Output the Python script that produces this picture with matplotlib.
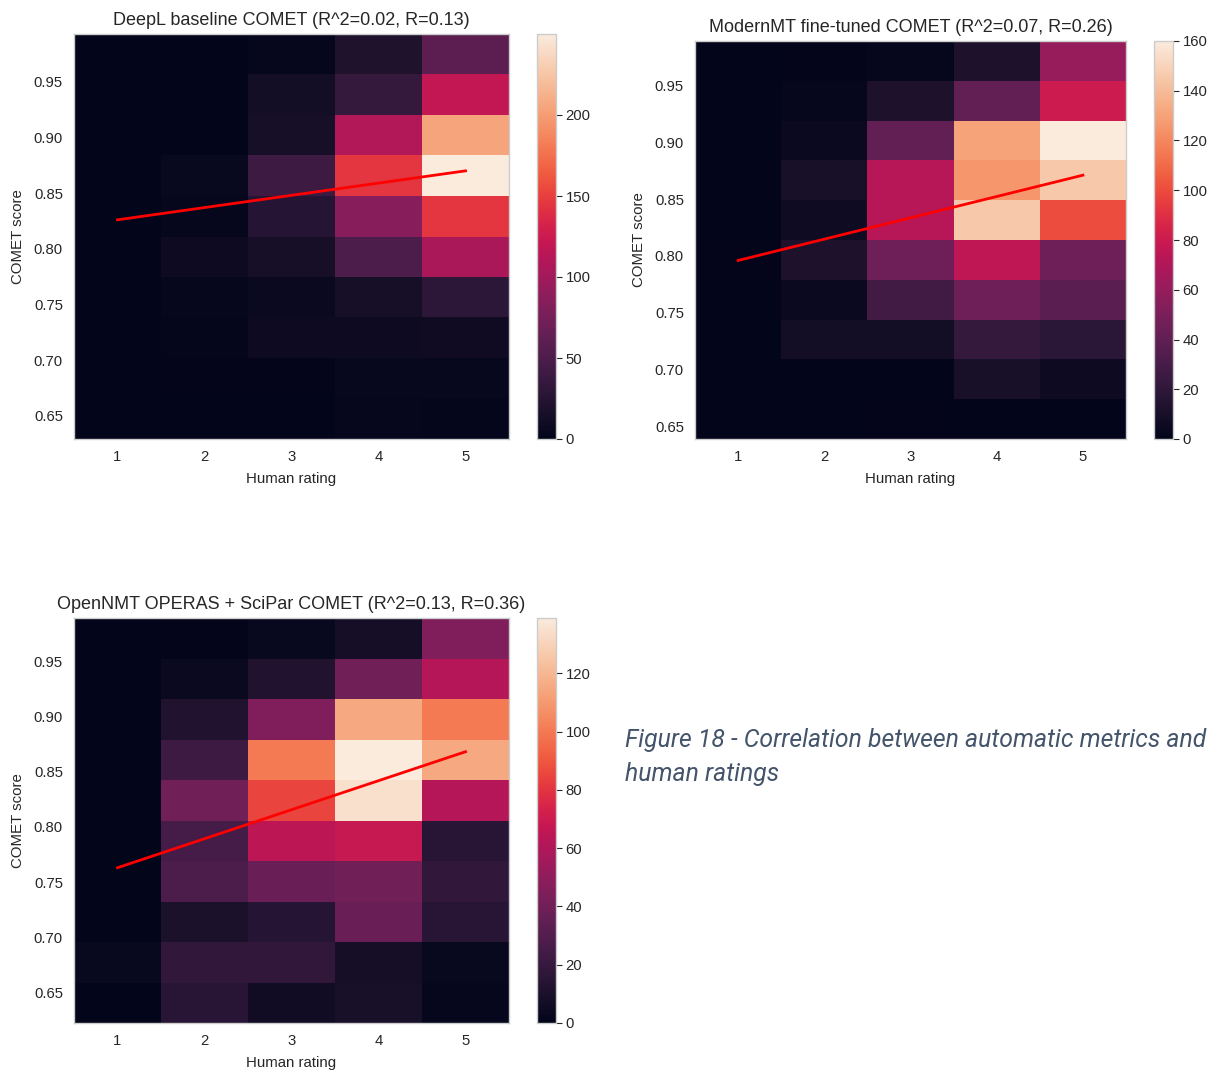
import numpy as np
import matplotlib
matplotlib.use('Agg')
import matplotlib.pyplot as plt
import seaborn as sns

# ratings on x, COMET score bins on y (rows listed top -> bottom)
ratings = [1, 2, 3, 4, 5]

titles = ['DeepL baseline COMET (R^2=0.02, R=0.13)',
          'ModernMT fine-tuned COMET (R^2=0.07, R=0.26)',
          'OpenNMT OPERAS + SciPar COMET (R^2=0.13, R=0.36)']

# score range of the 10 bins per model
score_lo = [0.629, 0.639, 0.6225]
score_hi = [0.993, 0.989, 0.989]

# fitted regression line evaluated at rating 1 and rating 5
fit_at_1 = [0.826, 0.796, 0.763]
fit_at_5 = [0.870, 0.871, 0.868]

deepl_counts = [
    [0, 0, 3, 20, 60],
    [0, 0, 12, 35, 120],
    [0, 0, 15, 110, 205],
    [0, 5, 40, 145, 250],
    [0, 3, 25, 85, 145],
    [0, 8, 15, 50, 105],
    [0, 3, 6, 15, 30],
    [0, 2, 8, 8, 10],
    [0, 1, 1, 4, 4],
    [0, 0, 0, 3, 2],
]

modernmt_counts = [
    [0, 1, 2, 12, 60],
    [0, 2, 12, 40, 80],
    [0, 4, 40, 130, 160],
    [0, 10, 72, 125, 145],
    [0, 6, 72, 145, 100],
    [1, 12, 45, 75, 45],
    [0, 4, 28, 45, 38],
    [0, 8, 8, 22, 18],
    [0, 0, 0, 10, 5],
    [0, 0, 1, 0, 0],
]

opennmt_counts = [
    [0, 1, 3, 8, 45],
    [0, 4, 12, 40, 62],
    [0, 12, 45, 115, 100],
    [0, 22, 100, 139, 115],
    [0, 40, 85, 135, 62],
    [0, 25, 65, 68, 15],
    [0, 28, 38, 40, 18],
    [0, 10, 14, 38, 15],
    [3, 18, 18, 8, 3],
    [0, 15, 6, 9, 2],
]

cbar_ticks = [[0, 50, 100, 150, 200],
              [0, 20, 40, 60, 80, 100, 120, 140, 160],
              [0, 20, 40, 60, 80, 100, 120]]

plt.rcParams['font.family'] = ['Liberation Sans', 'DejaVu Sans']
plt.rcParams['text.color'] = '.15'
plt.rcParams['xtick.color'] = '.15'
plt.rcParams['ytick.color'] = '.15'
plt.rcParams['axes.labelcolor'] = '.15'

cmap = sns.color_palette('rocket', as_cmap=True)

W, H = 1207, 1071
fig = plt.figure(figsize=(W / 100, H / 100), dpi=100)


def px_axes(left, top, right, bottom):
    return fig.add_axes([left / W, 1 - bottom / H, (right - left) / W, (bottom - top) / H])


# (axes box, colorbar box) in pixels: left, top, right, bottom
boxes = [
    ((74, 34, 509, 439), (537, 34, 556, 439)),
    ((695, 41, 1126, 439), (1154, 41, 1173, 439)),
    ((74, 618, 509, 1023), (537, 618, 556, 1023)),
]

all_counts = [deepl_counts, modernmt_counts, opennmt_counts]

for i in range(3):
    ax = px_axes(*boxes[i][0])
    cax = px_axes(*boxes[i][1])
    counts = np.array(all_counts[i])[::-1]  # bottom row first
    xe = np.arange(len(ratings) + 1) + 0.5
    ye = np.linspace(score_lo[i], score_hi[i], counts.shape[0] + 1)
    mesh = ax.pcolormesh(xe, ye, counts, cmap=cmap, vmin=0, vmax=counts.max())
    ax.plot([ratings[0], ratings[-1]], [fit_at_1[i], fit_at_5[i]], color='red', lw=2)
    ax.set_xlim(xe[0], xe[-1])
    ax.set_ylim(ye[0], ye[-1])
    ax.set_xticks(ratings)
    ax.set_yticks([0.65, 0.70, 0.75, 0.80, 0.85, 0.90, 0.95])
    ax.set_yticklabels(['%.2f' % v for v in [0.65, 0.70, 0.75, 0.80, 0.85, 0.90, 0.95]])
    ax.tick_params(length=0, labelsize=10.7, pad=8)
    ax.set_xlabel('Human rating', fontsize=10.8, labelpad=6)
    ax.set_ylabel('COMET score', fontsize=10.8, labelpad=6)
    ax.set_title(titles[i], fontsize=13, pad=6.5)
    for s in ax.spines.values():
        s.set_color('.8')
        s.set_linewidth(1)

    cb = fig.colorbar(mesh, cax=cax)
    cb.set_ticks(cbar_ticks[i])
    cb.outline.set_edgecolor('.8')
    cb.outline.set_linewidth(1)
    cax.tick_params(length=4, width=0.8, labelsize=10.7, pad=3, color='.15')

fig.text(625 / W, 1 - 740 / H, 'Figure 18 - Correlation between automatic metrics and',
         family='Roboto', style='italic', fontsize=17.8,
         color='#44546a', va='center')
fig.text(625 / W, 1 - 774 / H, 'human ratings',
         family='Roboto', style='italic', fontsize=17.8,
         color='#44546a', va='center')

fig.savefig('out.png', dpi=100)
